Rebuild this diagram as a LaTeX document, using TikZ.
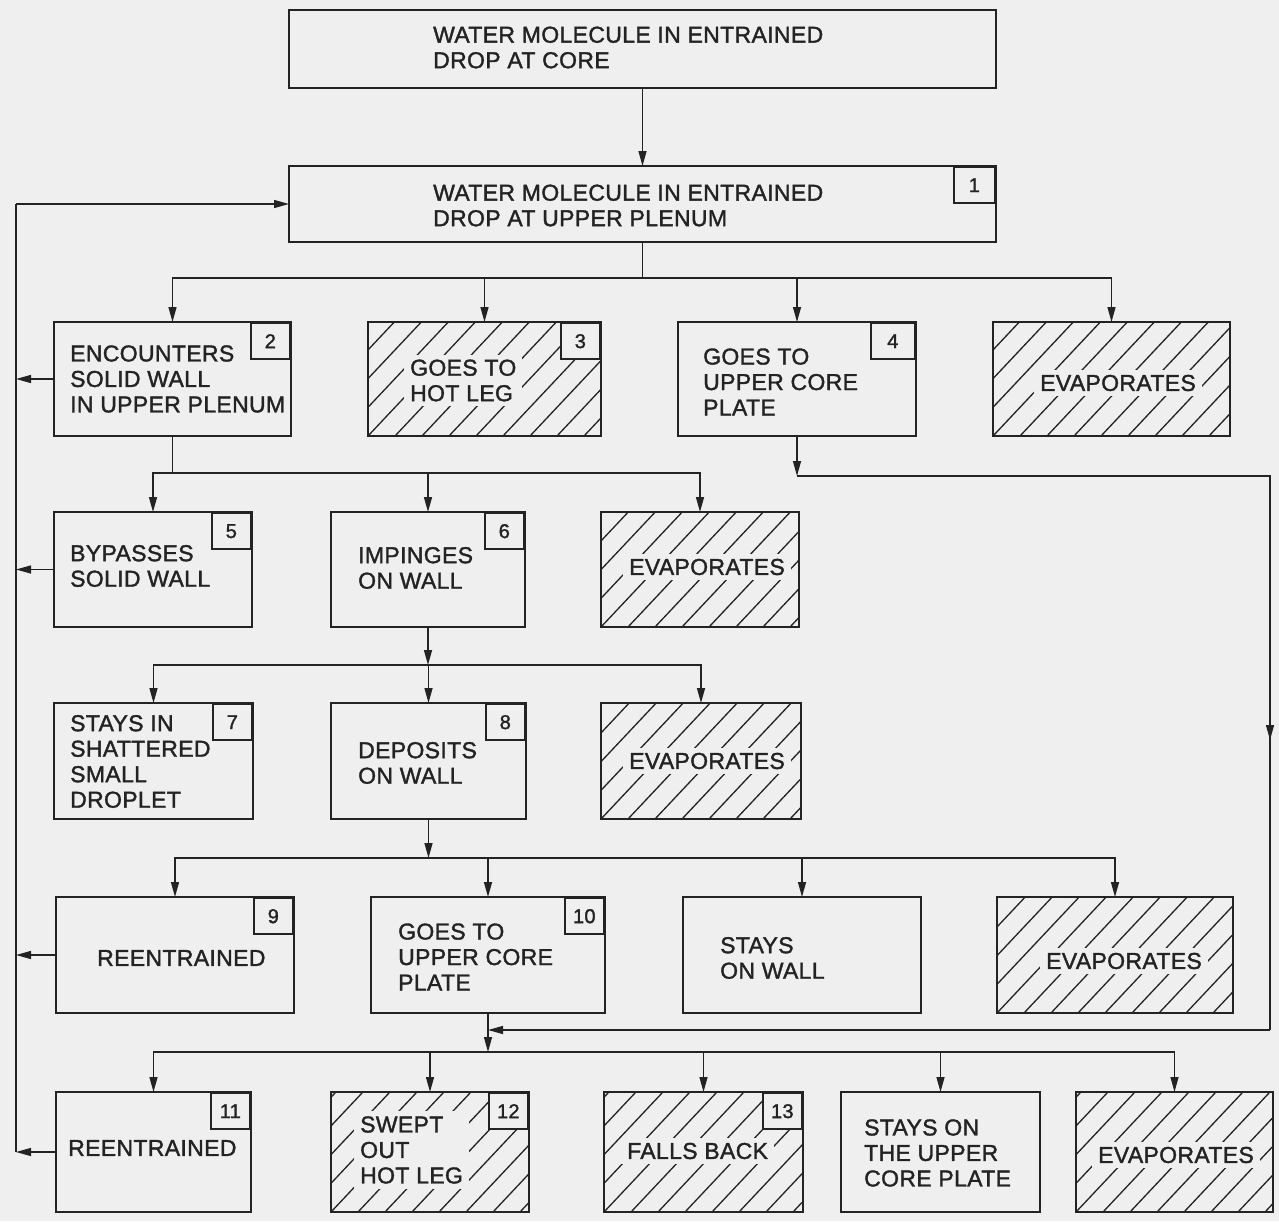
\documentclass[tikz,border=0pt]{standalone}
\usepackage{fontspec}
\setmainfont{Liberation Sans}[FakeBold=1.5,LetterSpace=1.5]
\usetikzlibrary{arrows.meta,calc}
\definecolor{bgc}{RGB}{239,239,239}
\definecolor{ink}{RGB}{35,35,35}
\tikzset{
 boxst/.style={draw=ink, line width=2.8pt, inner sep=0pt, outer sep=0pt},
 numst/.style={draw=ink, line width=2.4pt, fill=bgc, minimum width=39pt, minimum height=36pt, inner sep=0pt, anchor=north east, font=\fontsize{20}{21}\selectfont, text=ink},
 txt/.style={inner sep=0pt, align=left, anchor=west, text=ink, font=\fontsize{23}{25.5}\selectfont},
 masktxt/.style={txt, fill=bgc, inner xsep=6pt, inner ysep=5pt},
 conn/.style={draw=ink, line width=1.4pt},
 arr/.style={conn, -{Triangle[length=15pt,width=8pt]}},
 hatchst/.style={draw=ink, line width=1.3pt},
}
\newcommand\mkbox[5]{%
 \pgfmathsetmacro\mybw{#4-#2}\pgfmathsetmacro\mybh{#5-#3}%
 \pgfmathsetmacro\mybcx{(#2+#4)/2}\pgfmathsetmacro\mybcy{(#3+#5)/2}%
 \node[boxst, minimum width=\mybw pt, minimum height=\mybh pt] (#1) at (\mybcx,\mybcy) {};}
\newcommand\hatchit[1]{%
 \begin{scope}
 \clip (#1.south west) rectangle (#1.north east);
 \foreach \k in {-6,...,10} \draw[hatchst] ($(#1.south west)+(\k*27,0)$) -- ++(160,-170);
 \end{scope}}
\begin{document}
\begin{tikzpicture}[x=1pt,y=-1pt]
\useasboundingbox (0,0) rectangle (1279,1221);
\fill[bgc] (0,0) rectangle (1279,1221);

% boxes
\mkbox{A}{289}{10}{996}{88}
\mkbox{B1}{289}{166}{996}{242}
\mkbox{B2}{54}{322}{291}{436}
\mkbox{B3}{368}{322}{601}{436}
\mkbox{B4}{678}{322}{916}{436}
\mkbox{E1}{993}{322}{1230}{436}
\mkbox{B5}{54}{512}{252}{627}
\mkbox{B6}{331}{512}{525}{627}
\mkbox{E2}{601}{512}{799}{627}
\mkbox{B7}{54}{703}{253}{819}
\mkbox{B8}{331}{703}{526}{819}
\mkbox{E3}{601}{703}{801}{819}
\mkbox{B9}{56}{897}{294}{1013}
\mkbox{B10}{371}{897}{605}{1013}
\mkbox{SW}{683}{897}{921}{1013}
\mkbox{E4}{997}{897}{1233}{1013}
\mkbox{B11}{56}{1092}{251}{1212}
\mkbox{B12}{331}{1092}{529}{1212}
\mkbox{B13}{604}{1092}{803}{1212}
\mkbox{SP}{841}{1092}{1040}{1212}
\mkbox{E5}{1076}{1092}{1273}{1212}

% hatching
\hatchit{B3}\hatchit{E1}\hatchit{E2}\hatchit{E3}\hatchit{E4}\hatchit{B12}\hatchit{B13}\hatchit{E5}

% number boxes
\node[numst, minimum width=41pt] (n1) at (B1.north east) {1};
\node[numst] (n2) at (B2.north east) {2};
\node[numst] (n3) at (B3.north east) {3};
\node[numst, minimum width=44pt] (n4) at (B4.north east) {4};
\node[numst] (n5) at (B5.north east) {5};
\node[numst] (n6) at (B6.north east) {6};
\node[numst] (n7) at (B7.north east) {7};
\node[numst] (n8) at (B8.north east) {8};
\node[numst] (n9) at (B9.north east) {9};
\node[numst] (n10) at (B10.north east) {10};
\node[numst] (n11) at (B11.north east) {11};
\node[numst] (n12) at (B12.north east) {12};
\node[numst] (n13) at (B13.north east) {13};

% texts
\node[txt] (tA) at (433,47.5) {WATER MOLECULE IN ENTRAINED\\DROP AT CORE};
\node[txt] (t1) at (433,205.5) {WATER MOLECULE IN ENTRAINED\\DROP AT UPPER PLENUM};
\node[txt] (t2) at (70,379) {ENCOUNTERS\\SOLID WALL\\IN UPPER PLENUM};
\node[masktxt] (t3) at (404,380.5) {GOES TO\\HOT LEG};
\node[txt] (t4) at (703,382) {GOES TO\\UPPER CORE\\PLATE};
\node[masktxt, anchor=center] (te1) at (1118,383) {EVAPORATES};
\node[txt] (t5) at (70,566) {BYPASSES\\SOLID WALL};
\node[txt] (t6) at (358,568) {IMPINGES\\ON WALL};
\node[masktxt] (te2) at (623,567) {EVAPORATES};
\node[txt] (t7) at (70,761.5) {STAYS IN\\SHATTERED\\SMALL\\DROPLET};
\node[txt] (t8) at (358,763) {DEPOSITS\\ON WALL};
\node[masktxt] (te3) at (623,761) {EVAPORATES};
\node[txt] (t9) at (97,958) {REENTRAINED};
\node[txt] (t10) at (398,957) {GOES TO\\UPPER CORE\\PLATE};
\node[txt] (tsw) at (720,958) {STAYS\\ON WALL};
\node[masktxt] (te4) at (1040,961) {EVAPORATES};
\node[txt] (t11) at (68,1148) {REENTRAINED};
\node[masktxt] (t12) at (354,1150) {SWEPT\\OUT\\HOT LEG};
\node[masktxt] (t13) at (621,1151) {FALLS BACK};
\node[txt] (tsp) at (864,1153) {STAYS ON\\THE UPPER\\CORE PLATE};
\node[masktxt] (te5) at (1092,1155) {EVAPORATES};

% connectors
\draw[arr] (A.south) -- (B1.north);

\coordinate (j1) at ($(B1.south)+(0,36)$);
\draw[conn] (B1.south) -- (j1);
\draw[arr] (j1) -| (B2.north);
\draw[arr] (j1) -| (B3.north);
\draw[arr] (j1) -| (B4.north);
\draw[arr] (j1) -| (E1.north);

\coordinate (j2) at ($(B2.south)+(0,37)$);
\draw[conn] (B2.south) -- (j2);
\draw[arr] (j2) -| (B5.north);
\draw[arr] (j2) -| (B6.north);
\draw[arr] (j2) -| (E2.north);

\coordinate (j3) at ($(B6.south)+(0,38)$);
\draw[arr] (B6.south) -- (j3);
\draw[arr] (j3) -| (B7.north);
\draw[arr] (j3) -| (B8.north);
\draw[arr] (j3) -| (E3.north);

\coordinate (j4) at ($(B8.south)+(0,39)$);
\draw[arr] (B8.south) -- (j4);
\draw[arr] (j4) -| (B9.north);
\draw[arr] (j4) -| (B10.north);
\draw[arr] (j4) -| (SW.north);
\draw[arr] (j4) -| (E4.north);

\coordinate (j5) at ($(B10.south)+(0,39)$);
\draw[arr] (B10.south) -- (j5);
\draw[arr] (j5) -| (B11.north);
\draw[arr] (j5) -| (B12.north);
\draw[arr] (j5) -| (B13.north);
\draw[arr] (j5) -| (SP.north);
\draw[arr] (j5) -| (E5.north);

% right loop from box 4 to box 10 outlet
\coordinate (r1) at ($(B4.south)+(0,40)$);
\coordinate (r2) at (1270,476);
\coordinate (rm) at (1270,740);
\coordinate (r3) at (1270,1030);
\coordinate (r4) at (B10.south |- r3);
\draw[arr] (B4.south) -- (r1);
\draw[conn] (r1) -- (r2) -- (r3);
\draw[arr] (r2) -- (rm);
\draw[arr] (r3) -- (r4);

% left feedback line
\coordinate (Lt) at (16,204);
\draw[arr] (Lt) -- (B1.west);
\draw[conn] (Lt) -- (Lt |- B11.west);
\draw[arr] (B2.west) -- (B2.west -| Lt);
\draw[arr] (B5.west) -- (B5.west -| Lt);
\draw[arr] (B9.west) -- (B9.west -| Lt);
\draw[arr] (B11.west) -- (B11.west -| Lt);
\end{tikzpicture}
\end{document}
